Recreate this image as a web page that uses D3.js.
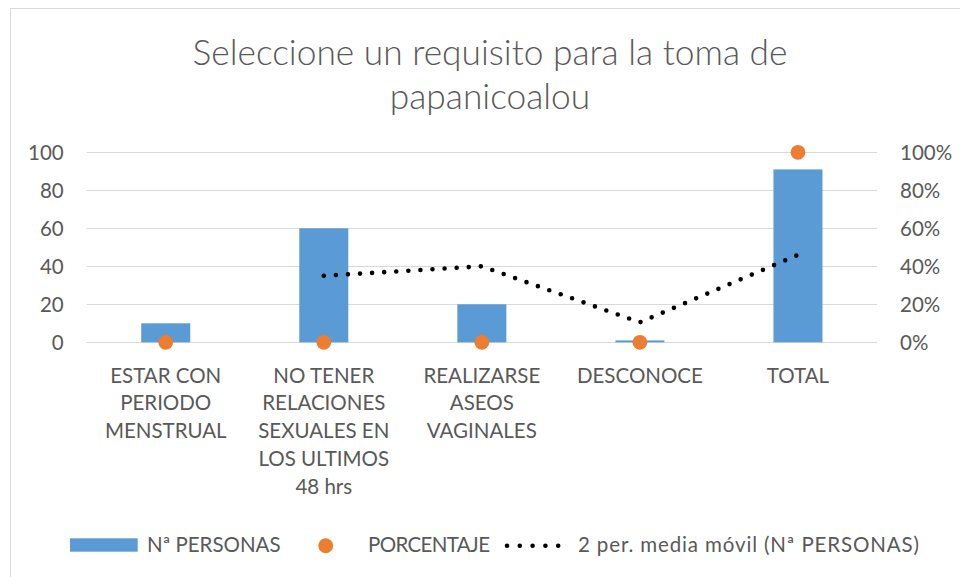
<!DOCTYPE html>
<html>
<head>
<meta charset="utf-8">
<script src="https://cdn.jsdelivr.net/npm/d3@7"></script>
<style>
  html, body { margin: 0; padding: 0; background: #fff; }
  svg { display: block; }
  text { font-family: Lato, "Open Sans", sans-serif; fill: #595959; }
</style>
</head>
<body>
<script>
// ---- data ----
const categories = [
  ["ESTAR CON", "PERIODO", "MENSTRUAL"],
  ["NO TENER", "RELACIONES", "SEXUALES EN", "LOS ULTIMOS", "48 hrs"],
  ["REALIZARSE", "ASEOS", "VAGINALES"],
  ["DESCONOCE"],
  ["TOTAL"]
];
const personas = [10, 60, 20, 1, 91];
const porcentaje = [0, 0, 0, 0, 1];
const mediaMovil = [null, 35, 40, 10.5, 46];
const leftTicks = [0, 20, 40, 60, 80, 100];
const rightTicks = [0, 0.2, 0.4, 0.6, 0.8, 1];
const titleLines = ["Seleccione un requisito para la toma de", "papanicoalou"];
const legendLabels = ["Nª PERSONAS", "PORCENTAJE", "2 per. media móvil (Nª PERSONAS)"];

// ---- layout ----
const W = 960, H = 577;
const plot = { left: 86.7, right: 877, top: 152.3, bottom: 342.3 };
const colBar = "#5B9BD5", colDot = "#ED7D31", colGrid = "#D9D9D9";

const svg = d3.select("body").append("svg").attr("width", W).attr("height", H);

// chart border
svg.append("rect").attr("x", 10.5).attr("y", 8.5).attr("width", 1000).attr("height", 1000)
  .attr("fill", "none").attr("stroke", colGrid).attr("stroke-width", 1);

// title
function fit(sel, w) {
  const base = parseFloat(sel.attr("font-size"));
  const m = sel.node().getComputedTextLength();
  sel.attr("font-size", (base * w / m).toFixed(2));
}
const t1 = svg.append("text").attr("x", 490).attr("y", 65).attr("text-anchor", "middle")
  .attr("font-size", 34).attr("font-weight", 300).text(titleLines[0]);
fit(t1, 595);
svg.append("text").attr("x", 490).attr("y", 109).attr("text-anchor", "middle")
  .attr("font-size", t1.attr("font-size")).attr("font-weight", 300).text(titleLines[1]);

// scales
const idx = d3.range(categories.length);
const x = d3.scaleBand().domain(idx).range([plot.left, plot.right])
  .paddingInner(0.69).paddingOuter(0.345);
const y = d3.scaleLinear().domain([0, 100]).range([plot.bottom, plot.top]);
const y2 = d3.scaleLinear().domain([0, 1]).range([plot.bottom, plot.top]);
const cx = i => x(i) + x.bandwidth() / 2;

// gridlines
svg.append("g").selectAll("line").data(leftTicks).join("line")
  .attr("x1", plot.left).attr("x2", plot.right)
  .attr("y1", d => Math.round(y(d)) + 0.5).attr("y2", d => Math.round(y(d)) + 0.5)
  .attr("stroke", colGrid).attr("stroke-width", 1);

// left axis
const axL = svg.append("g").attr("transform", `translate(${plot.left},0)`)
  .call(d3.axisLeft(y).tickValues(leftTicks).tickSize(0).tickPadding(23));
axL.select(".domain").remove();
axL.selectAll("text").attr("font-size", 20.5).attr("font-family", "Lato").attr("fill", "#595959")
  .attr("dy", "0.36em");

// right axis
const axR = svg.append("g").attr("transform", `translate(${plot.right},0)`)
  .call(d3.axisRight(y2).tickValues(rightTicks).tickSize(0).tickPadding(23).tickFormat(d3.format(".0%")));
axR.select(".domain").remove();
axR.selectAll("text").attr("font-size", 20.5).attr("font-family", "Lato").attr("fill", "#595959")
  .attr("dy", "0.36em");

// bars
svg.append("g").selectAll("rect").data(personas).join("rect")
  .attr("x", (d, i) => x(i)).attr("width", x.bandwidth())
  .attr("y", d => y(d)).attr("height", d => y(0) - y(d))
  .attr("fill", colBar);

// moving average line
const line = d3.line().defined(d => d[1] != null).x(d => cx(d[0])).y(d => y(d[1]));
svg.append("path").datum(mediaMovil.map((v, i) => [i, v]))
  .attr("d", line).attr("fill", "none").attr("stroke", "#000")
  .attr("stroke-width", 4.6).attr("stroke-linecap", "round")
  .attr("stroke-dasharray", "0 12.1");

// percentage dots
svg.append("g").selectAll("circle").data(porcentaje).join("circle")
  .attr("cx", (d, i) => cx(i)).attr("cy", d => y2(d)).attr("r", 7.4)
  .attr("fill", colDot);

// category labels
const cat = svg.append("g");
categories.forEach((lines, i) => {
  const t = cat.append("text").attr("text-anchor", "middle").attr("font-size", 20.5);
  lines.forEach((ln, j) => {
    t.append("tspan").attr("x", cx(i)).attr("y", 382.5 + j * 27.8).text(ln);
  });
});

// legend
const lg = svg.append("g");
lg.append("rect").attr("x", 70).attr("y", 538.3).attr("width", 67.7).attr("height", 13.4).attr("fill", colBar);
lg.append("text").attr("x", 147).attr("y", 552).attr("font-size", 20.5).text(legendLabels[0]);
lg.append("circle").attr("cx", 325.7).attr("cy", 545.7).attr("r", 7.4).attr("fill", colDot);
lg.append("text").attr("x", 368).attr("y", 552).attr("font-size", 20.5)
  .attr("textLength", 122).attr("lengthAdjust", "spacing").text(legendLabels[1]);
lg.append("line").attr("x1", 507).attr("x2", 571).attr("y1", 545.7).attr("y2", 545.7)
  .attr("stroke", "#000").attr("stroke-width", 4.6).attr("stroke-linecap", "round")
  .attr("stroke-dasharray", "0 12.8");
lg.append("text").attr("x", 578).attr("y", 552).attr("font-size", 20.5)
  .attr("textLength", 341).attr("lengthAdjust", "spacing").text(legendLabels[2]);
</script>
</body>
</html>
